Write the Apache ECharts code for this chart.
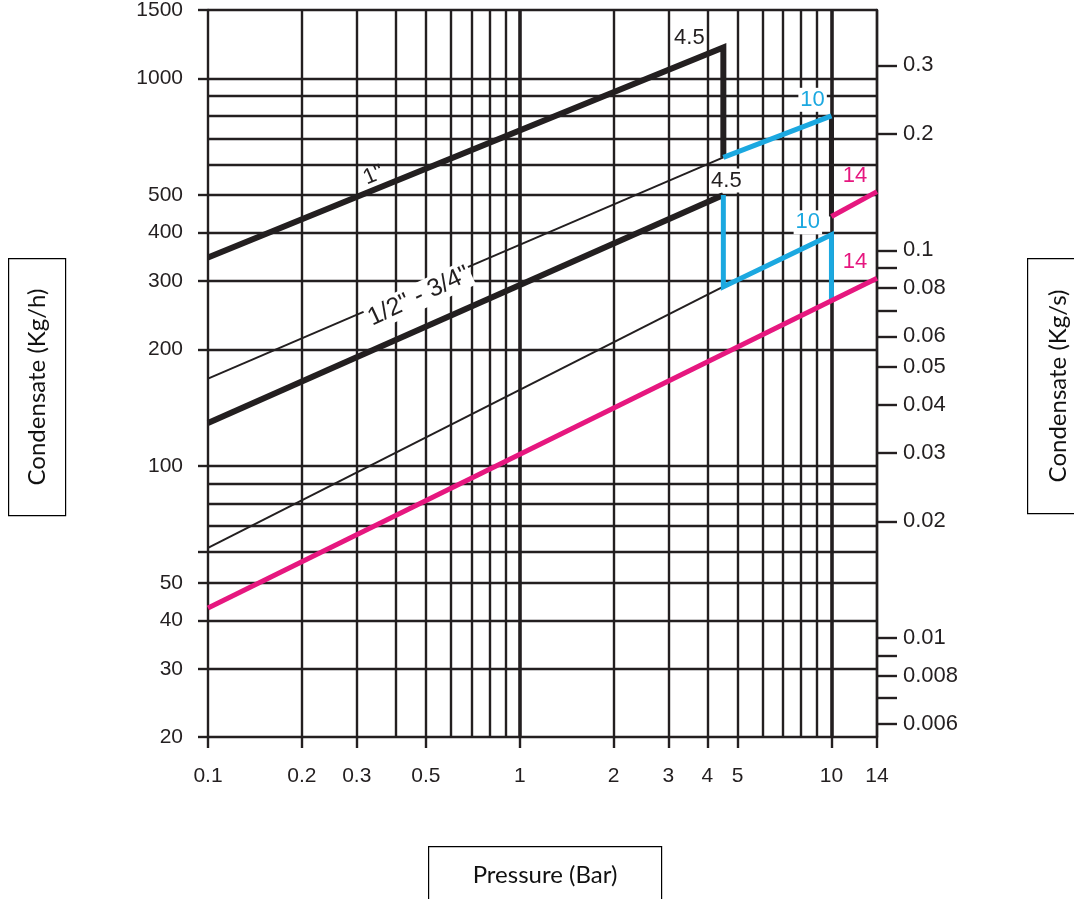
<!DOCTYPE html>
<html><head><meta charset="utf-8">
<script src="https://cdn.jsdelivr.net/npm/echarts@6/dist/echarts.min.js"></script>
<style>html,body{margin:0;padding:0;background:#fff}#c{width:1074px;height:899px}</style>
</head><body><div id="c"></div>
<script>
// ---------- data ----------
const pressureTickValues = [0.1, 0.2, 0.3, 0.5, 1, 2, 3, 4, 5, 10, 14];
const kghLabelValues = [20, 30, 40, 50, 100, 200, 300, 400, 500, 1000, 1500];
const kghTickValues = [20, 30, 40, 50, 60, 100, 200, 300, 400, 500, 1000, 1500];
const kgsLabelValues = [0.006, 0.008, 0.01, 0.02, 0.03, 0.04, 0.05, 0.06, 0.08, 0.1, 0.2, 0.3];
const kgsTickValues = [0.006, 0.007, 0.008, 0.009, 0.01, 0.02, 0.03, 0.04, 0.05, 0.06, 0.07, 0.08, 0.09, 0.1, 0.2, 0.3];
const pressureGridMinor = [0.2, 0.3, 0.4, 0.5, 0.6, 0.7, 0.8, 0.9, 2, 3, 4, 5, 6, 7, 8, 9, 14];
const pressureGridMajor = [1, 10];
const kghGrid = [30, 40, 50, 60, 70, 80, 90, 100, 200, 300, 400, 500, 600, 700, 800, 900, 1000, 1500];

// curves: [pressure (bar), condensate (kg/h)]
const oneInchAt45 = [[0.1, 345], [4.5, 1200], [4.5, 625]];
const oneInchAt10Thin = [[0.1, 168], [4.5, 625]];
const oneInchAt10 = [[4.5, 625], [10, 800]];
const oneInchAt10Drop = [[10, 800], [10, 440]];
const oneInchAt14 = [[10, 440], [14, 510]];
const halfInchAt45 = [[0.1, 129], [4.5, 500]];
const halfInchAt10Thin = [[0.1, 61.5], [4.5, 290]];
const halfInchAt10 = [[4.5, 500], [4.5, 290], [10, 395], [10, 266]];
const halfInchAt14 = [[0.1, 43], [14, 305]];

// annotation texts and anchor values
const annoTexts = ['4.5', '4.5', '10', '10', '14', '14', '1"', '1/2" - 3/4"'];
const annoAnchors = [[3.5, 1270], [4.6, 545], [8.7, 880], [8.4, 425], [11.9, 560], [11.9, 335], [0.34, 562], [0.475, 274]];

const KGH_PER_KGS = 3600;
const yMin = 20, yMax = 1500, xMin = 0.1, xMax = 14;

// ---------- styles ----------
const INK = '#231f20', BLUE = '#1ba8e0', PINK = '#e6177f';
const FONT = '"Liberation Sans", Arial, sans-serif';
const BOXFONT = '24px Lato, "Open Sans", sans-serif';
const annoStyle = [
  {color: INK}, {color: INK, bg: true}, {color: BLUE, bg: true}, {color: BLUE, bg: true},
  {color: PINK}, {color: PINK}, {color: INK, rotate: 23}, {color: INK, rotate: 25, bg: true, size: 25}
];

function fmt(v) { return String(+(+v).toPrecision(4)); }

const chart = echarts.init(document.getElementById('c'), null, {renderer: 'canvas'});

function lineSeries(data, color, width, z) {
  return {type: 'line', data: data, symbol: 'none', showSymbol: false, silent: true,
    animation: false, z: z, lineStyle: {color: color, width: width, cap: 'butt', join: 'miter'}};
}

const gridLineData = []
  .concat(pressureGridMinor.map(v => ({xAxis: v, lineStyle: {width: 2.4}})))
  .concat(pressureGridMajor.map(v => ({xAxis: v, lineStyle: {width: 3.6}})))
  .concat(kghGrid.map(v => ({yAxis: v, lineStyle: {width: 2.4}})));

const option = {
  backgroundColor: '#fff',
  animation: false,
  textStyle: {fontFamily: FONT},
  grid: {left: 208, top: 10, right: 197, bottom: 162, containLabel: false, outerBoundsMode: 'none'},
  xAxis: {
    type: 'log', logBase: 10, min: xMin, max: xMax,
    axisLine: {show: true, lineStyle: {color: INK, width: 2.4}},
    axisTick: {show: true, length: 11, lineStyle: {color: INK, width: 2.4}, customValues: pressureTickValues},
    axisLabel: {show: true, margin: 29, fontSize: 21, color: INK, fontFamily: FONT, customValues: pressureTickValues, formatter: fmt},
    splitLine: {show: false}, minorTick: {show: false}, minorSplitLine: {show: false}
  },
  yAxis: [{
    type: 'log', logBase: 10, min: yMin, max: yMax, position: 'left',
    axisLine: {show: true, lineStyle: {color: INK, width: 2.4}},
    axisTick: {show: true, length: 10, lineStyle: {color: INK, width: 2.4}, customValues: kghTickValues},
    axisLabel: {show: true, margin: 25, fontSize: 21, color: INK, fontFamily: FONT, customValues: kghLabelValues, formatter: fmt},
    splitLine: {show: false}
  }, {
    type: 'log', logBase: 10, min: yMin / KGH_PER_KGS, max: yMax / KGH_PER_KGS, position: 'right',
    axisLine: {show: true, lineStyle: {color: INK, width: 2.4}},
    axisTick: {show: true, length: 20, lineStyle: {color: INK, width: 2.4}, customValues: kgsTickValues},
    axisLabel: {show: true, margin: 26, fontSize: 22, color: INK, fontFamily: FONT, customValues: kgsLabelValues, formatter: fmt},
    splitLine: {show: false}
  }],
  series: [
    {type: 'line', data: [[xMin, yMin]], symbol: 'none', silent: true, z: 1,
      markLine: {silent: true, symbol: ['none', 'none'], label: {show: false}, animation: false,
        lineStyle: {type: 'solid', color: INK, width: 2.4}, emphasis: {disabled: true},
        data: gridLineData}},
    lineSeries(oneInchAt10Thin, INK, 2, 3),
    lineSeries(halfInchAt10Thin, INK, 2, 3),
    lineSeries(oneInchAt45, INK, 6, 4),
    lineSeries(halfInchAt45, INK, 6, 4),
    lineSeries(oneInchAt10Drop, INK, 5, 4),
    lineSeries(oneInchAt10, BLUE, 5, 5),
    lineSeries(halfInchAt10, BLUE, 5, 5),
    lineSeries(oneInchAt14, PINK, 5, 5),
    lineSeries(halfInchAt14, PINK, 5, 5),
    {type: 'scatter', silent: true, z: 10, symbolSize: 1, itemStyle: {color: '#fff', opacity: 1},
      data: annoAnchors.map((p, i) => ({
        value: p,
        label: {show: true, position: 'inside', formatter: annoTexts[i], fontSize: annoStyle[i].size || 22, fontFamily: FONT,
          color: annoStyle[i].color, rotate: annoStyle[i].rotate || 0, opacity: 1,
          textBorderWidth: 0, textBorderColor: 'transparent', textShadowBlur: 0,
          backgroundColor: annoStyle[i].bg ? '#fff' : 'transparent', padding: [1, 2]}
      }))}
  ],
  graphic: [
    {type: 'rect', left: 8, top: 258, shape: {width: 57, height: 257}, style: {fill: '#fff', stroke: '#000', lineWidth: 1.2}},
    {type: 'text', x: 37, y: 387, rotation: Math.PI / 2,
      style: {text: 'Condensate (Kg/h)', font: BOXFONT, fill: '#111', align: 'center', verticalAlign: 'middle'}},
    {type: 'rect', left: 1027, top: 258, shape: {width: 60, height: 255}, style: {fill: '#fff', stroke: '#000', lineWidth: 1.2}},
    {type: 'text', x: 1058, y: 386, rotation: Math.PI / 2,
      style: {text: 'Condensate (Kg/s)', font: BOXFONT, fill: '#111', align: 'center', verticalAlign: 'middle'}},
    {type: 'rect', left: 428, top: 846, shape: {width: 233, height: 70}, style: {fill: '#fff', stroke: '#000', lineWidth: 1.2}},
    {type: 'text', x: 545, y: 875,
      style: {text: 'Pressure (Bar)', font: BOXFONT, fill: '#111', align: 'center', verticalAlign: 'middle'}}
  ]
};
chart.setOption(option);
</script></body></html>
